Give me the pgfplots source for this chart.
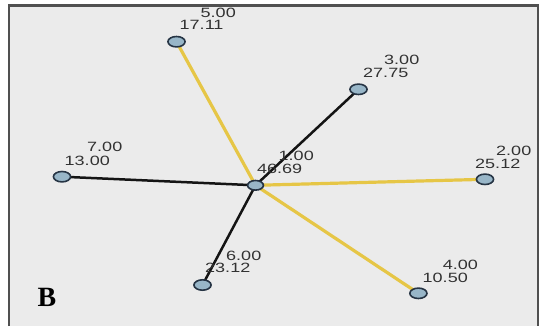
\documentclass[border=0pt]{standalone}
\usepackage{fontspec}
\setmainfont{Liberation Serif}
\newfontfamily\labfont{Liberation Sans}
\usepackage{graphicx}
\usepackage{pgfplots}
\pgfplotsset{compat=1.18}
\definecolor{panelbg}{RGB}{235,235,235}
\definecolor{panelborder}{RGB}{80,80,80}
\definecolor{edgeyellow}{RGB}{230,198,70}
\definecolor{edgeblack}{RGB}{20,20,20}
\definecolor{nodefill}{RGB}{152,182,200}
\definecolor{nodedraw}{RGB}{38,52,68}
\definecolor{labcol}{RGB}{50,50,50}
\newcommand{\lab}[3]{\node[anchor=base west, inner sep=0pt, text=labcol, font=\labfont\fontsize{13.5}{13.5}\selectfont] at (axis cs:#1,#2) {\scalebox{1.34}[1]{#3}};}
\begin{document}
\begin{tikzpicture}
\begin{axis}[
  width=545bp, height=326bp, scale only axis,
  xmin=0, xmax=545, ymin=0, ymax=326, y dir=reverse,
  hide axis, clip=false]
% background
\fill[white] (axis cs:0,0) rectangle (axis cs:545,326);
\fill[panelbg] (axis cs:9,5.7) rectangle (axis cs:538,326);
\draw[panelborder, line width=2.4bp] (axis cs:9,326) -- (axis cs:9,5.7) -- (axis cs:538,5.7) -- (axis cs:538,326);
% centre node (under the edges)
\addplot[only marks, mark=*, mark size=4.8bp,
  mark options={xscale=1.65, fill=nodefill, draw=nodedraw, line width=1.6bp}]
  coordinates {(255.5,185.3)};
% yellow edges
\addplot[edgeyellow, line width=3.2bp] coordinates {(255.5,185.3) (176.5,41.7)};
\addplot[edgeyellow, line width=3.2bp] coordinates {(255.5,185.3) (485,179.3)};
\addplot[edgeyellow, line width=3.2bp] coordinates {(255.5,185.3) (418.4,293.3)};
% black edges
\addplot[edgeblack, line width=2.5bp] coordinates {(255.5,185.3) (358.5,89.3)};
\addplot[edgeblack, line width=2.5bp] coordinates {(255.5,185.3) (62,176.7)};
\addplot[edgeblack, line width=2.5bp] coordinates {(255.5,185.3) (202.5,285)};
% outer nodes
\addplot[only marks, mark=*, mark size=5.2bp,
  mark options={xscale=1.65, fill=nodefill, draw=nodedraw, line width=1.6bp}]
  coordinates {(176.5,41.7) (358.5,89.3) (62,176.7) (485,179.3) (202.5,285) (418.4,293.3)};
% labels
\lab{200.5}{17.1}{5.00}
\lab{179.5}{29.8}{17.11}
\lab{384}{64.8}{3.00}
\lab{363}{77.5}{27.75}
\lab{87}{151.8}{7.00}
\lab{64.5}{165.2}{13.00}
\lab{278.5}{160.3}{1.00}
\lab{256.8}{173}{46.69}
\lab{496}{155}{2.00}
\lab{475}{168}{25.12}
\lab{226}{260.5}{6.00}
\lab{205}{272.8}{23.12}
\lab{442.7}{269.5}{4.00}
\lab{422.5}{282}{10.50}
\node[anchor=base west, inner sep=0pt, font=\bfseries\fontsize{28}{28}\selectfont] at (axis cs:37.5,306) {B};
\end{axis}
\end{tikzpicture}
\end{document}
